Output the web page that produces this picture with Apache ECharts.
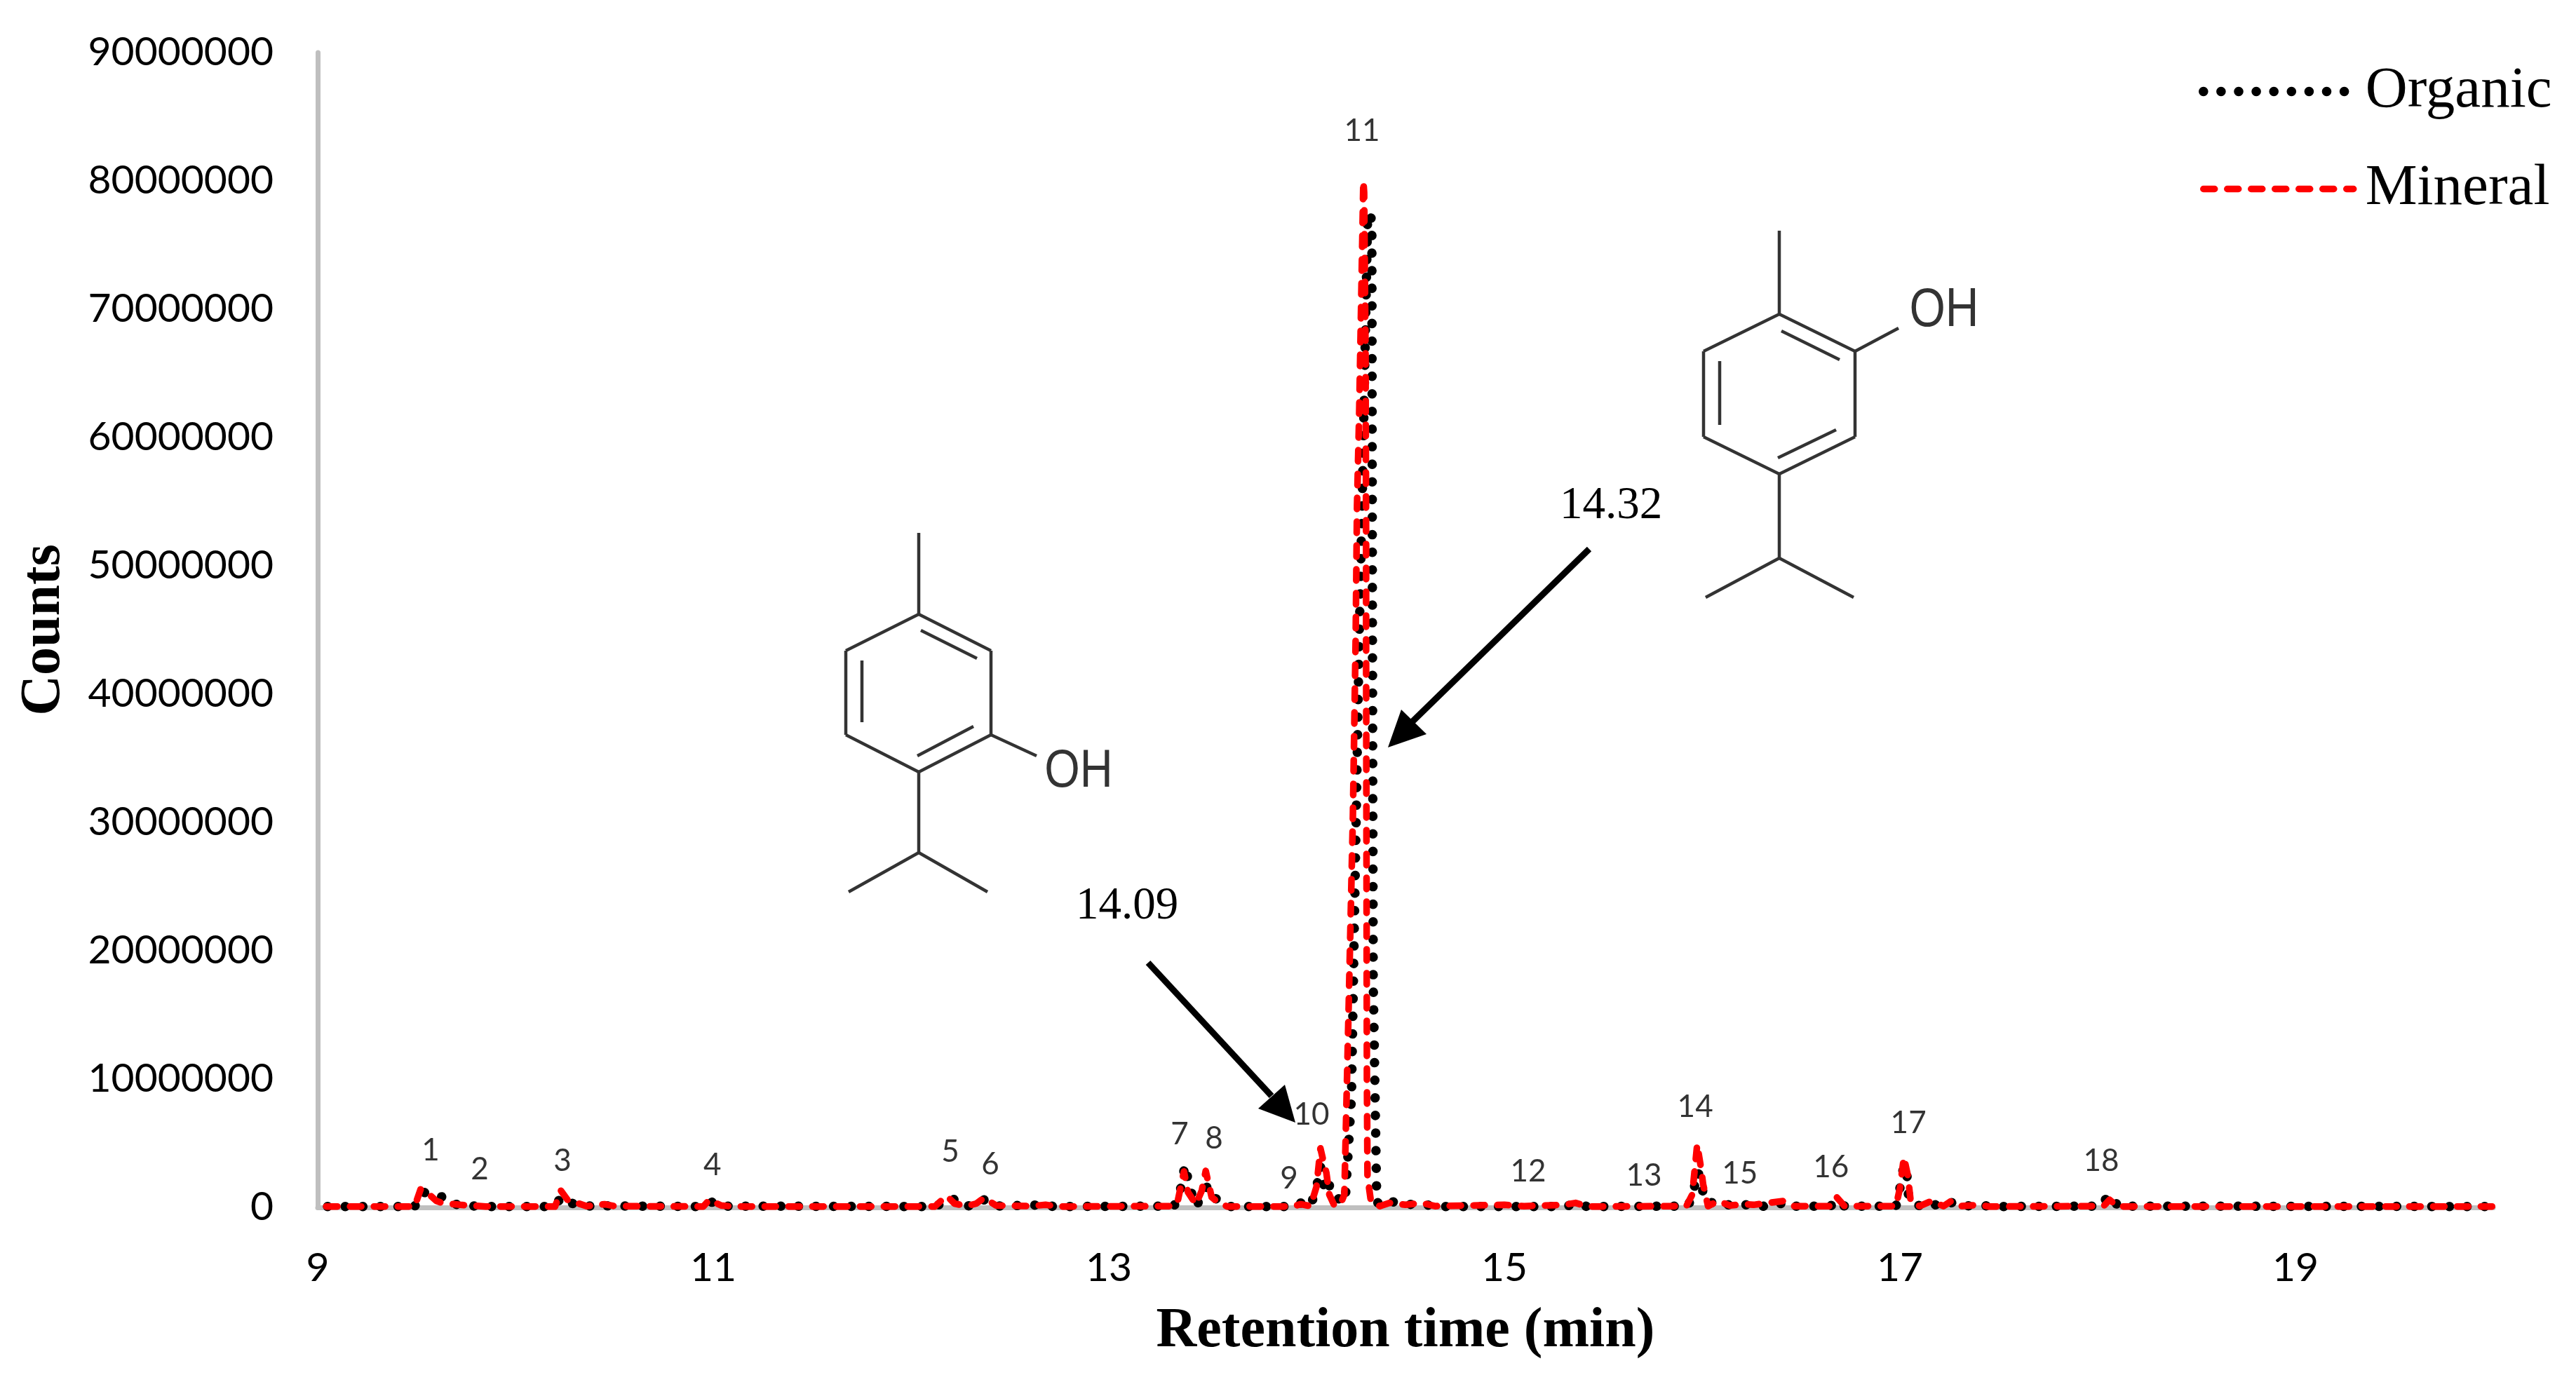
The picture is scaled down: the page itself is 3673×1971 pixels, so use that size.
<!DOCTYPE html>
<html lang="en">
  <head>
    <meta charset="UTF-8" />
    <title>Retention time chromatogram</title>
    <style>
      html, body { margin: 0; padding: 0; background: #fff; }
    </style>
  </head>

  <body>
    <div id="chart" style="width: 3673px; height: 1971px;"></div>
  </body>
  <script src="https://cdn.jsdelivr.net/npm/echarts@6/dist/echarts.min.js"></script>
  <script>
    // [retention time (min), counts]
    let organic = [
      [9.05, 70000], [9.49, 70000], [9.53, 1200000], [9.58, 1000000], [9.66, 700000], [9.68, 300000],
      [9.73, 150000], [9.85, 70000], [10.2, 70000], [10.23, 800000], [10.26, 450000], [10.33, 100000],
      [10.45, 120000], [10.95, 70000], [10.99, 400000], [11.03, 450000], [11.06, 100000], [12.12, 70000],
      [12.16, 350000], [12.21, 750000], [12.24, 150000], [12.33, 100000], [12.37, 600000], [12.42, 100000],
      [12.68, 200000], [12.72, 70000], [13.33, 100000], [13.36, 1200000], [13.385, 3300000], [13.41, 1500000],
      [13.44, 100000], [13.47, 800000], [13.5, 1700000], [13.53, 900000], [13.56, 350000], [13.61, 70000],
      [13.93, 70000], [13.98, 400000], [14.02, 100000], [14.05, 1500000], [14.07, 3200000], [14.09, 1500000],
      [14.11, 2100000], [14.125, 1000000], [14.17, 600000], [14.195, 400000], [14.227, 8600000],
      [14.266, 44400000], [14.284, 57200000], [14.309, 77500000], [14.33, 77000000], [14.333, 44400000],
      [14.337, 17600000], [14.355, 400000], [14.4, 100000], [14.43, 450000], [14.5, 250000], [14.6, 200000],
      [14.7, 70000], [15.3, 70000], [15.36, 250000], [15.42, 70000], [15.93, 100000], [15.96, 1500000],
      [15.975, 2800000], [15.99, 2400000], [16.0, 1400000], [16.03, 300000], [16.08, 500000], [16.13, 200000],
      [16.22, 200000], [16.26, 200000], [16.3, 70000], [16.4, 300000], [16.43, 500000], [16.47, 100000],
      [16.65, 100000], [16.68, 600000], [16.72, 100000], [16.98, 100000], [17.0, 1500000], [17.02, 3300000],
      [17.035, 2600000], [17.045, 600000], [17.07, 500000], [17.1, 100000], [17.15, 350000], [17.2, 100000],
      [17.25, 450000], [17.3, 100000], [17.4, 150000], [17.5, 70000], [18.02, 100000], [18.05, 900000],
      [18.08, 800000], [18.1, 100000], [20, 70000]
    ]
    let mineral = [
      [9.043, 70000], [9.49, 70000], [9.52, 1400000], [9.55, 1200000], [9.6, 500000], [9.63, 350000],
      [9.72, 200000], [9.85, 70000], [10.2, 70000], [10.23, 1300000], [10.27, 450000], [10.32, 300000],
      [10.36, 100000], [10.45, 250000], [10.5, 100000], [10.95, 70000], [10.98, 600000], [11.04, 150000],
      [11.1, 70000], [12.12, 70000], [12.18, 900000], [12.22, 300000], [12.28, 100000], [12.33, 300000],
      [12.37, 750000], [12.43, 150000], [12.6, 100000], [12.68, 200000], [12.75, 70000], [13.33, 100000],
      [13.35, 600000], [13.38, 2800000], [13.4, 1200000], [13.44, 250000], [13.47, 1300000], [13.49, 2850000],
      [13.52, 800000], [13.56, 300000], [13.6, 70000], [13.93, 70000], [13.97, 250000], [14.02, 100000],
      [14.05, 1600000], [14.07, 4600000], [14.085, 3600000], [14.1, 2700000], [14.115, 1000000], [14.14, 150000],
      [14.17, 200000], [14.191, 1000000], [14.213, 15800000], [14.234, 30400000], [14.248, 44200000],
      [14.255, 54700000], [14.266, 62000000], [14.287, 80000000], [14.291, 79100000], [14.298, 66900000],
      [14.301, 52200000], [14.301, 43400000], [14.305, 10000000], [14.308, 2400000], [14.326, 400000],
      [14.37, 100000], [14.42, 350000], [14.5, 200000], [14.58, 350000], [14.65, 100000], [15.0, 200000],
      [15.1, 100000], [15.3, 200000], [15.36, 350000], [15.42, 70000], [15.92, 100000], [15.95, 1000000],
      [15.975, 4900000], [15.995, 3000000], [16.005, 1800000], [16.03, 100000], [16.08, 500000], [16.14, 150000],
      [16.22, 250000], [16.26, 200000], [16.41, 500000], [16.46, 100000], [16.65, 100000], [16.68, 800000],
      [16.72, 100000], [16.98, 100000], [17.0, 1500000], [17.02, 3900000], [17.04, 2500000], [17.055, 400000],
      [17.1, 100000], [17.16, 500000], [17.22, 100000], [17.26, 500000], [17.31, 100000], [17.4, 200000],
      [17.45, 70000], [18.03, 100000], [18.06, 600000], [18.1, 70000], [20, 70000]
    ]
    // peak number, retention time, height of the number above the baseline
    let peakLabels = [
      ['1', 9.571, 4460000], ['2', 9.819, 2980000], ['3', 10.238, 3640000], ['4', 10.996, 3310000],
      ['5', 12.199, 4350000], ['6', 12.401, 3370000], ['7', 13.358, 5720000], ['8', 13.532, 5390000],
      ['9', 13.911, 2270000], ['10', 14.025, 7250000], ['11', 14.28, 83900000], ['12', 15.121, 2820000],
      ['13', 15.706, 2490000], ['14', 15.965, 7800000], ['15', 16.191, 2660000], ['16', 16.652, 3150000],
      ['17', 17.043, 6590000], ['18', 18.018, 3640000]
    ]

    let labelFont = 'Lato'
    let serifFont = '"Liberation Serif"'
    let structureColor = '#333333'
    let organicLine = { color: '#000000', width: 13.5, type: [0.1, 25], cap: 'round', join: 'round' }
    let mineralLine = { color: '#FF0000', width: 9.5, type: [16, 18], cap: 'round', join: 'round' }

    // 快速创建 graphic 的线段
    function bonds(list) {
      return list.map(b => ({
        type: 'line',
        shape: { x1: b[0], y1: b[1], x2: b[2], y2: b[3] },
        style: { stroke: structureColor, lineWidth: 4.5 }
      }))
    }
    function caption(text, x, y, font, fill, scaleY) {
      return {
        type: 'text',
        x: x,
        y: y,
        scaleY: scaleY || 1,
        style: { text: text, font: font, fill: fill, textAlign: 'center', textVerticalAlign: 'middle' }
      }
    }
    function arrow(from, neck, tip, barbA, barbB) {
      return [
        {
          type: 'line',
          shape: { x1: from[0], y1: from[1], x2: neck[0], y2: neck[1] },
          style: { stroke: '#000', lineWidth: 9 }
        },
        {
          type: 'polygon',
          shape: { points: [tip, barbA, barbB] },
          style: { fill: '#000' }
        }
      ]
    }

    let thymol = bonds([
      [2537, 329, 2537, 448], [2537, 448, 2645, 501], [2645, 501, 2645, 623], [2645, 623, 2537, 676],
      [2537, 676, 2429, 623], [2429, 623, 2429, 501], [2429, 501, 2537, 448],
      [2540, 472, 2623, 513], [2452, 515, 2452, 606], [2535, 653, 2618, 613],
      [2645, 501, 2707, 468], [2537, 676, 2537, 796], [2537, 796, 2432, 852], [2537, 796, 2643, 852]
    ])
    let carvacrol = bonds([
      [1310, 760, 1310, 876], [1310, 876, 1413, 928], [1413, 928, 1413, 1048], [1413, 1048, 1310, 1101],
      [1310, 1101, 1206, 1048], [1206, 1048, 1206, 928], [1206, 928, 1310, 876],
      [1313, 899, 1393, 939], [1229, 942, 1229, 1030], [1308, 1078, 1388, 1036],
      [1413, 1048, 1478, 1078], [1310, 1101, 1310, 1216], [1310, 1216, 1210, 1272], [1310, 1216, 1408, 1272]
    ])

    let chart = echarts.init(document.getElementById('chart'))
    chart.setOption({
      animation: false,
      backgroundColor: '#ffffff',
      grid: { left: 453, right: 118, top: 75, bottom: 249, outerBoundsMode: 'none' },
      legend: {
        data: [
          { name: 'Organic', itemStyle: { opacity: 0 }, lineStyle: organicLine },
          { name: 'Mineral', itemStyle: { opacity: 0 }, lineStyle: mineralLine }
        ],
        orient: 'vertical',
        left: 3130,
        top: 84,
        itemWidth: 214,
        itemHeight: 90,
        itemGap: 56,
        selectedMode: false,
        textStyle: { fontFamily: serifFont, fontSize: 83, color: '#000', padding: [0, 0, 0, 12] }
      },
      xAxis: {
        type: 'value',
        min: 9,
        max: 20,
        interval: 2,
        name: 'Retention time (min)',
        nameLocation: 'middle',
        nameGap: 177,
        nameTextStyle: { fontFamily: serifFont, fontWeight: 'bold', fontSize: 80, color: '#000', verticalAlign: 'middle' },
        splitLine: { show: false },
        axisTick: { show: false },
        axisLine: { lineStyle: { color: '#BFBFBF', width: 7 } },
        axisLabel: { fontFamily: labelFont, fontSize: 57, color: '#000', margin: 58, showMaxLabel: false }
      },
      yAxis: {
        type: 'value',
        min: 0,
        max: 90000000,
        interval: 10000000,
        name: 'Counts',
        nameLocation: 'middle',
        nameGap: 390,
        nameRotate: 90,
        nameTextStyle: { fontFamily: serifFont, fontWeight: 'bold', fontSize: 80, color: '#000', verticalAlign: 'middle' },
        splitLine: { show: false },
        axisTick: { show: false },
        axisLine: { show: true, lineStyle: { color: '#BFBFBF', width: 7 } },
        axisLabel: { fontFamily: labelFont, fontSize: 57, color: '#000', margin: 63, formatter: v => String(v) }
      },
      series: [
        {
          name: 'Organic',
          type: 'line',
          data: organic,
          showSymbol: false,
          symbol: 'none',
          clip: false,
          color: '#000000',
          lineStyle: organicLine
        },
        {
          name: 'Mineral',
          type: 'line',
          data: mineral,
          showSymbol: false,
          symbol: 'none',
          clip: false,
          color: '#FF0000',
          lineStyle: mineralLine
        },
        {
          name: 'Peak number',
          type: 'scatter',
          data: peakLabels.map(p => ({ name: p[0], value: [p[1], p[2]] })),
          symbolSize: 1,
          itemStyle: { color: 'transparent' },
          silent: true,
          z: 5,
          label: {
            show: true,
            position: 'inside',
            formatter: '{b}',
            fontFamily: labelFont,
            fontSize: 44,
            color: '#000'
          }
        }
      ],
      graphic: {
        elements: [
          ...thymol,
          ...carvacrol,
          caption('OH', 2772, 444, '66px "Liberation Sans"', structureColor, 1.18),
          caption('OH', 1538, 1101, '65px "Liberation Sans"', structureColor, 1.18),
          caption('14.32', 2297, 722, '65px ' + serifFont, '#000'),
          caption('14.09', 1607, 1293, '65px ' + serifFont, '#000'),
          ...arrow([2266, 783], [2014, 1029], [1979, 1066], [1998, 1012], [2034, 1047]),
          ...arrow([1637, 1373], [1813, 1563], [1847, 1601], [1832, 1547], [1794, 1581])
        ]
      }
    })
  </script>
</html>
